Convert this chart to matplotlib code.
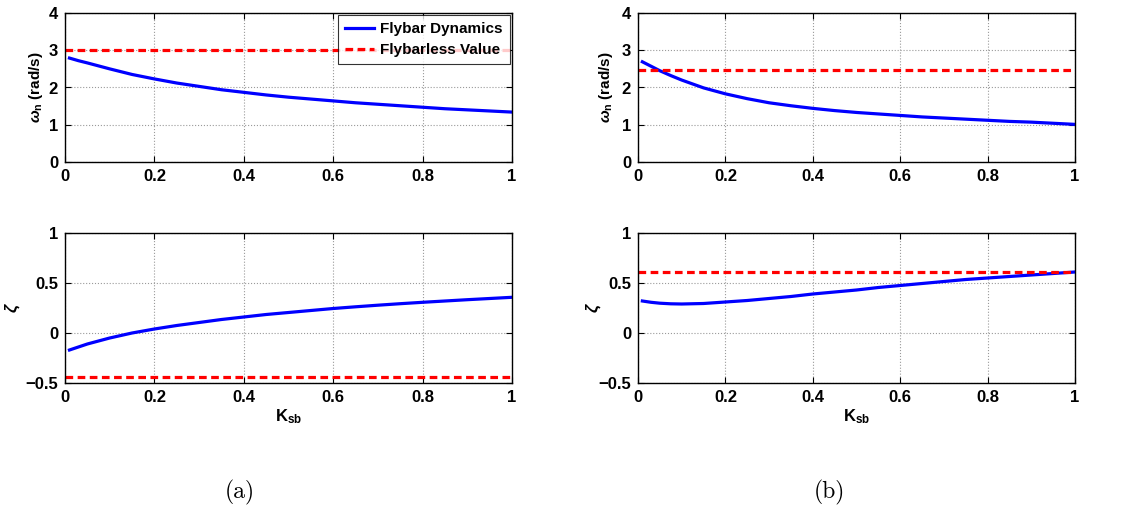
import numpy as np
import matplotlib.pyplot as plt

plt.rcParams['font.family'] = 'Liberation Sans'
plt.rcParams['font.weight'] = 'bold'
plt.rcParams['mathtext.fontset'] = 'custom'
plt.rcParams['mathtext.rm'] = 'Liberation Sans:bold'
plt.rcParams['mathtext.bf'] = 'Liberation Sans:bold'
plt.rcParams['mathtext.it'] = 'Liberation Sans:italic'

# Данные
k_sb = [0.01, 0.03, 0.05, 0.075, 0.1, 0.15, 0.2, 0.25, 0.3, 0.35, 0.4, 0.45, 0.5,
        0.55, 0.6, 0.65, 0.7, 0.75, 0.8, 0.85, 0.9, 0.95, 1.0]

wn_a = [2.79, 2.72, 2.66, 2.58, 2.50, 2.35, 2.23, 2.12, 2.03, 1.94, 1.87, 1.80, 1.74,
        1.69, 1.64, 1.59, 1.55, 1.51, 1.47, 1.43, 1.40, 1.37, 1.34]
zeta_a = [-0.17, -0.14, -0.11, -0.08, -0.05, 0.00, 0.04, 0.075, 0.105, 0.135, 0.16, 0.185, 0.205,
          0.225, 0.245, 0.262, 0.278, 0.293, 0.307, 0.32, 0.333, 0.345, 0.357]
wn_b = [2.69, 2.57, 2.45, 2.32, 2.20, 1.99, 1.83, 1.70, 1.59, 1.51, 1.44, 1.38, 1.33,
        1.29, 1.25, 1.21, 1.18, 1.15, 1.12, 1.09, 1.07, 1.04, 1.01]
zeta_b = [0.32, 0.307, 0.298, 0.292, 0.29, 0.295, 0.31, 0.325, 0.345, 0.365, 0.39, 0.41, 0.43,
          0.455, 0.475, 0.495, 0.515, 0.535, 0.55, 0.565, 0.58, 0.595, 0.61]

wn_flybarless = [3.02, 2.48]
zeta_flybarless = [-0.44, 0.613]

W, H = 1133, 514
fig = plt.figure(figsize=(W / 100, H / 100), dpi=100)


def make_axes(x0, x1, y0, y1):
    return fig.add_axes([x0 / W, 1 - y1 / H, (x1 - x0) / W, (y1 - y0) / H])


def style(ax, ylim, yticks):
    ax.set_xlim(0, 1)
    ax.set_ylim(*ylim)
    ax.set_xticks([0, 0.2, 0.4, 0.6, 0.8, 1])
    ax.set_xticklabels(['0', '0.2', '0.4', '0.6', '0.8', '1'])
    ax.set_yticks(yticks)
    ax.set_yticklabels([('%g' % t).replace('-', '\u2212') for t in yticks])
    ax.tick_params(direction='in', length=4, width=0.8, top=True, right=True,
                   labelsize=12, pad=5)
    for lab in ax.get_xticklabels() + ax.get_yticklabels():
        lab.set_fontweight('bold')
    ax.grid(True, linestyle=':', color='#9a9a9a', linewidth=0.8)
    for s in ax.spines.values():
        s.set_linewidth(1.0)


dash = (0, (2.4, 1.4))

axes = [
    (make_axes(65, 512, 13, 162), make_axes(65, 512, 233, 383), wn_a, zeta_a, 0),
    (make_axes(638, 1075, 13, 162), make_axes(638, 1075, 233, 383), wn_b, zeta_b, 1),
]

for ax_w, ax_z, wn, zeta, i in axes:
    ax_w.plot(k_sb, wn, color='#0000ff', lw=2.3, label='Flybar Dynamics')
    ax_w.axhline(wn_flybarless[i], color='#ff0000', lw=2.3, linestyle=dash,
                 label='Flybarless Value')
    style(ax_w, (0, 4), [0, 1, 2, 3, 4])
    ax_w.set_ylabel(r'$\omega_{\mathbf{n}}$ (rad/s)', fontsize=11, fontweight='bold')

    ax_z.plot(k_sb, zeta, color='#0000ff', lw=2.3)
    ax_z.axhline(zeta_flybarless[i], color='#ff0000', lw=2.3, linestyle=dash)
    style(ax_z, (-0.5, 1), [-0.5, 0, 0.5, 1])
    ax_z.set_ylabel(r'$\zeta$', fontsize=12)
    ax_z.set_xlabel(r'K$_{\mathbf{sb}}$', fontsize=12, fontweight='bold', labelpad=2)

axes[0][0].yaxis.set_label_coords(-0.044, 0.5)
axes[0][1].yaxis.set_label_coords(-0.097, 0.5)
axes[1][0].yaxis.set_label_coords(-0.052, 0.5)
axes[1][1].yaxis.set_label_coords(-0.080, 0.5)

leg = axes[0][0].legend(loc='upper right', fontsize=11, frameon=True, fancybox=False,
                        borderaxespad=0.15, handlelength=1.9, borderpad=0.45,
                        labelspacing=0.45, handletextpad=0.4)
leg.get_frame().set_edgecolor('black')
leg.get_frame().set_linewidth(0.8)
for t in leg.get_texts():
    t.set_fontweight('bold')

fig.text(240 / W, 1 - 492 / H, '(a)', family='cmr10', fontsize=17, ha='center', va='center')
fig.text(829 / W, 1 - 492 / H, '(b)', family='cmr10', fontsize=17, ha='center', va='center')

fig.savefig('out.png', dpi=100)
